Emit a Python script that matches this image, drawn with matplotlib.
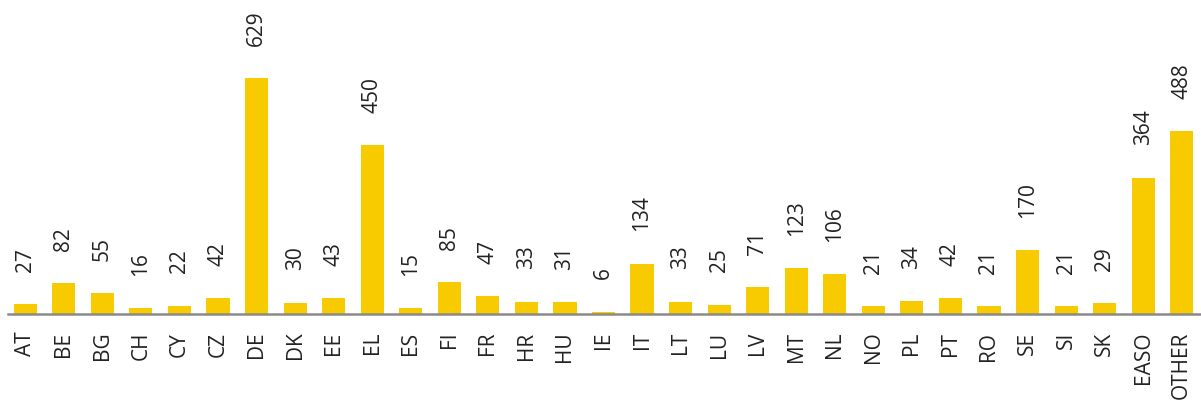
import matplotlib
matplotlib.use("Agg")
import matplotlib.pyplot as plt

categories = ["AT","BE","BG","CH","CY","CZ","DE","DK","EE","EL","ES","FI","FR","HR","HU","IE",
              "IT","LT","LU","LV","MT","NL","NO","PL","PT","RO","SE","SI","SK","EASO","OTHER"]
values = [27,82,55,16,22,42,629,30,43,450,15,85,47,33,31,6,134,33,25,71,123,106,21,34,42,21,170,21,29,364,488]

plt.rcParams['font.family'] = ['Open Sans', 'DejaVu Sans']

fig = plt.figure(figsize=(12.01, 4.06), dpi=100)
bottom = (406 - 315) / 406
ax = fig.add_axes([0.0066, bottom, 1 - 0.0066, 315 / 406])
x = list(range(len(categories)))
ax.bar(x, values, width=0.6, color="#F8CB00")
ax.set_xlim(-0.45, len(categories) - 0.5)
ax.set_ylim(0, 840)
for xi, v in zip(x, values):
    ax.annotate(str(v), (xi, v), xytext=(0, 24), textcoords="offset points",
                rotation=90, ha="center", va="bottom", fontsize=15, color="#222222")
ax.set_xticks(x)
ax.set_xticklabels(categories, rotation=90, fontsize=15, color="#222222")
ax.tick_params(axis="x", length=0, pad=12)
ax.set_yticks([])
for s in ["top", "right", "left"]:
    ax.spines[s].set_visible(False)
ax.spines["bottom"].set_color("#8a8a8a")
ax.spines["bottom"].set_linewidth(1.8)
ax.patch.set_alpha(0)
fig.savefig("out.png", dpi=100)
